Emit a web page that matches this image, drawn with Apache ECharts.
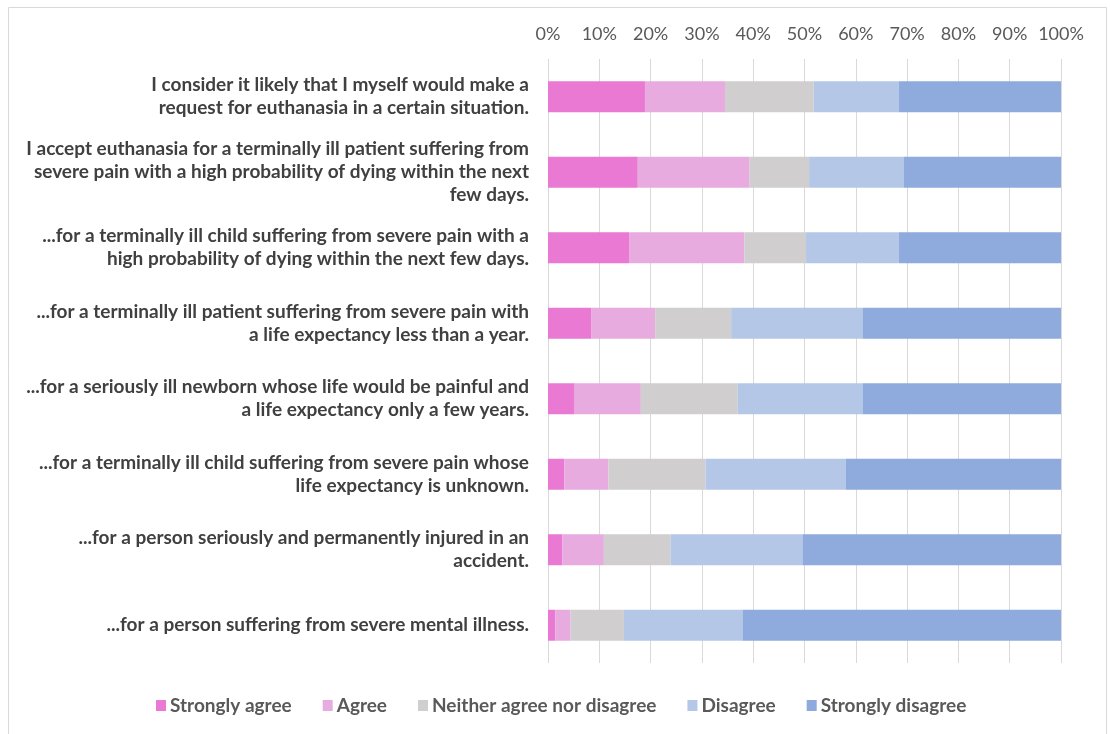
<!DOCTYPE html>
<html><head><meta charset="utf-8">
<script src="https://cdn.jsdelivr.net/npm/echarts@6/dist/echarts.min.js"></script>
<style>html,body{margin:0;padding:0;background:#fff}#c{width:1110px;height:734px}</style>
</head><body><div id="c"></div>
<script>
const categories = [
  "I consider it likely that I myself would make a\nrequest for euthanasia in a certain situation.",
  "I accept euthanasia for a terminally ill patient suffering from\nsevere pain with a high probability of dying within the next\nfew days.",
  "...for a terminally ill child suffering from severe pain with a\nhigh probability of dying within the next few days.",
  "...for a terminally ill patient suffering from severe pain with\na life expectancy less than a year.",
  "...for a seriously ill newborn whose life would be painful and\na life expectancy only a few years.",
  "...for a terminally ill child suffering from severe pain whose\nlife expectancy is unknown.",
  "...for a person seriously and permanently injured in an\naccident.",
  "...for a person suffering from severe mental illness."
];
const seriesNames = ["Strongly agree","Agree","Neither agree nor disagree","Disagree","Strongly disagree"];
const stronglyAgree = [18.9, 17.5, 15.8, 8.4, 5.2, 3.2, 2.8, 1.4];
const agree = [15.6, 21.8, 22.5, 12.5, 12.9, 8.6, 8.1, 3.0];
const neither = [17.3, 11.6, 12.0, 14.8, 18.9, 18.9, 13.0, 10.4];
const disagree = [16.6, 18.4, 18.1, 25.6, 24.4, 27.3, 25.7, 23.1];
const stronglyDisagree = [31.6, 30.7, 31.6, 38.7, 38.6, 42.0, 50.4, 62.1];
const tickLabels = ["0%","10%","20%","30%","40%","50%","60%","70%","80%","90%","100%"];

const colors = ["#E979D3","#E7ABDF","#D0CECE","#B4C7E7","#8FAADC"];
const allData = [stronglyAgree, agree, neither, disagree, stronglyDisagree];
const chart = echarts.init(document.getElementById('c'));
chart.setOption({
  animation: false,
  color: colors,
  textStyle: {fontFamily: 'Lato'},
  graphic: [{type:'rect', shape:{x:8.5,y:7.5,width:1098,height:760}, style:{fill:'none', stroke:'#d9d9d9', lineWidth:1}, silent:true}],
  grid: {left: 548, right: 49, top: 59, bottom: 71},
  xAxis: {
    type: 'value', position: 'top', min: 0, max: 100, interval: 10,
    axisLine: {show:false}, axisTick: {show:false},
    splitLine: {lineStyle:{color:'#d9d9d9', width:1}},
    axisLabel: {margin: 16, color:'#595959', fontSize: 18, fontFamily:'Lato',
      formatter: v => tickLabels[Math.round(v/10)]}
  },
  yAxis: {
    type: 'category', inverse: true, data: categories,
    axisLine: {show:false}, axisTick: {show:false},
    axisLabel: {margin: 19, color:'#404040', fontSize: 19, fontWeight:'bold', lineHeight: 23, align:'right', fontFamily:'Lato'}
  },
  legend: {
    bottom: 14, left: 151, itemWidth: 10, itemHeight: 11, itemGap: 31, icon: 'rect',
    textStyle: {color:'#595959', fontSize: 19, fontWeight:'bold', fontFamily:'Lato', padding:[0,0,0,-1]},
    data: seriesNames
  },
  series: seriesNames.map((n,i) => ({
    name: n, type: 'bar', stack: 'total', barWidth: 31, data: allData[i]
  }))
});
</script></body></html>
